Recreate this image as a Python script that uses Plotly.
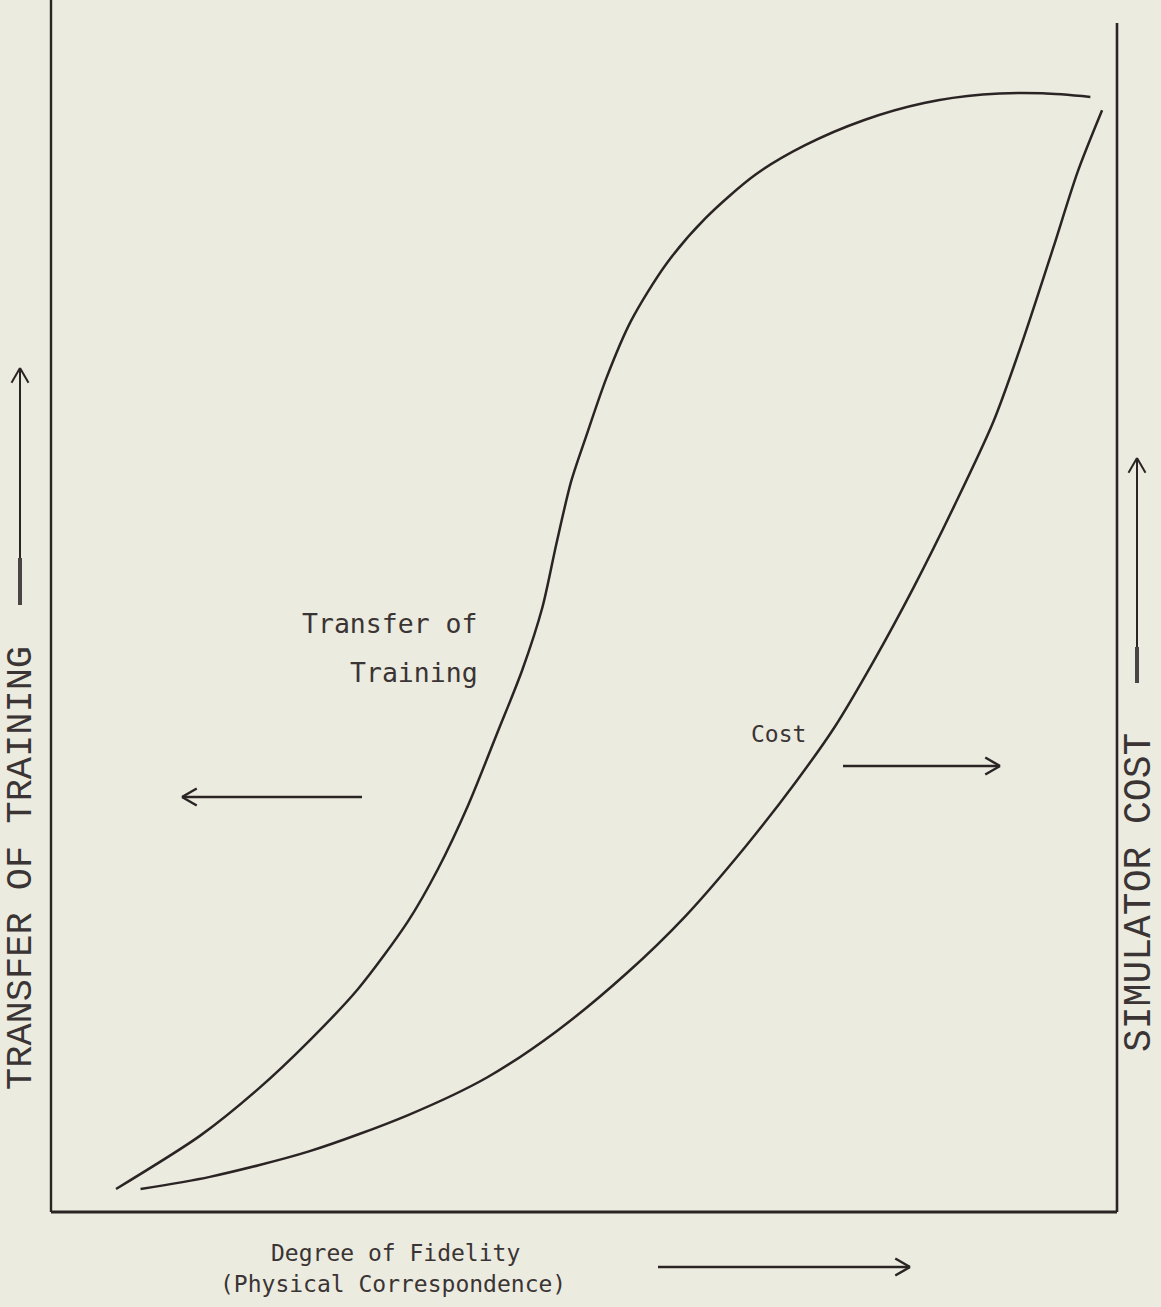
import math
import plotly.graph_objects as go

# ---- data (fidelity 0-100 along x, value 0-100 along y) ----
transfer_fidelity = [6.1, 14.0, 19.5, 24.2, 28.8, 33.5, 36.3, 39.1, 41.9, 44.2, 46.1, 47.4, 48.8, 50.2,
                     52.1, 54.4, 57.7, 61.4, 66.1, 70.7, 76.3, 81.9, 87.4, 93.0, 97.5]
transfer_value = [1.9, 6.3, 10.2, 14.1, 18.4, 24.0, 28.3, 33.5, 39.6, 44.7, 49.9, 55.1, 60.3, 64.0,
                  68.8, 73.5, 78.2, 82.0, 85.6, 88.0, 90.1, 91.5, 92.2, 92.3, 92.0]
cost_fidelity = [8.4, 14.9, 24.2, 33.5, 40.9, 47.4, 54.0, 59.5, 65.1, 69.8, 73.5, 77.2, 80.9, 84.7,
                 88.4, 91.2, 94.0, 96.3, 98.6]
cost_value = [1.9, 2.9, 5.0, 8.0, 11.1, 14.9, 19.7, 24.4, 30.1, 35.4, 40.0, 45.5, 51.5, 58.2,
              65.2, 72.0, 79.5, 85.8, 90.9]

x_title_1 = "Degree of Fidelity"
x_title_2 = "(Physical Correspondence)"
y_left_title = "TRANSFER OF TRAINING"
y_right_title = "SIMULATOR COST"
label_transfer_1 = "Transfer of"
label_transfer_2 = "Training"
label_cost = "Cost"

# ---- layout constants ----
W, H = 1161, 1307
BG = "#ecebdf"
INK = "#2b2424"
TXT = "#3a3434"
MONO = "DejaVu Sans Mono, Liberation Mono, monospace"
LETTER = "Liberation Mono, DejaVu Sans Mono, monospace"

# plot box in pixels: left axis x=51, right axis x=1117, bottom y=1212, top y=0
L, R, B, T = 51.0, 1117.0, 1212.0, 0.0
sx = (R - L) / 100.0
sy = (B - T) / 100.0
x_range = [-L / sx, (W - L) / sx]
y_range = [(B - H) / sy, B / sy]


def X(px):
    return px / W


def Y(py):
    return 1 - py / H


fig = go.Figure()
fig.add_trace(go.Scatter(x=transfer_fidelity, y=transfer_value, mode="lines",
                         line=dict(color=INK, width=2.5, shape="spline", smoothing=0.8),
                         hoverinfo="skip", showlegend=False))
fig.add_trace(go.Scatter(x=cost_fidelity, y=cost_value, mode="lines",
                         line=dict(color=INK, width=2.5, shape="spline", smoothing=0.8),
                         hoverinfo="skip", showlegend=False))

shapes = []
# axes frame
shapes.append(dict(type="line", xref="x", yref="y", x0=0, x1=0, y0=0, y1=y_range[1], line=dict(color=INK, width=2.4)))
shapes.append(dict(type="line", xref="x", yref="y", x0=0, x1=100, y0=0, y1=0, line=dict(color=INK, width=2.8)))
shapes.append(dict(type="line", xref="x", yref="y", x0=100, x1=100, y0=0, y1=(B - 23) / sy, line=dict(color=INK, width=2.6)))


def arrow(x0, y0, x1, y1, head=17, width=2.5):
    shapes.append(dict(type="line", xref="paper", yref="paper", x0=X(x0), y0=Y(y0), x1=X(x1), y1=Y(y1),
                       line=dict(color=INK, width=width)))
    ang = math.atan2(y1 - y0, x1 - x0)
    for d in (math.radians(150), math.radians(-150)):
        hx = x1 + head * math.cos(ang + d)
        hy = y1 + head * math.sin(ang + d)
        shapes.append(dict(type="line", xref="paper", yref="paper", x0=X(x1), y0=Y(y1), x1=X(hx), y1=Y(hy),
                           line=dict(color=INK, width=width)))


arrow(20, 605, 20, 368, width=2.0)        # left up arrow
arrow(1137, 683, 1137, 458, width=2.0)    # right up arrow
arrow(362, 797, 182, 797)                 # transfer arrow (left)
arrow(843, 766, 1000, 766)                # cost arrow (right)
arrow(658, 1267, 910, 1267)               # fidelity arrow
shapes.append(dict(type="line", xref="paper", yref="paper", x0=X(20), x1=X(20), y0=Y(558), y1=Y(605),
                   line=dict(color="#4a4444", width=4)))
shapes.append(dict(type="line", xref="paper", yref="paper", x0=X(1137), x1=X(1137), y0=Y(647), y1=Y(683),
                   line=dict(color="#4a4444", width=4)))

annotations = [
    dict(x=X(395), y=Y(1253), xref="paper", yref="paper", text=x_title_1, showarrow=False,
         font=dict(family=MONO, size=23, color=TXT), xanchor="center", yanchor="middle"),
    dict(x=X(393), y=Y(1284), xref="paper", yref="paper", text=x_title_2, showarrow=False,
         font=dict(family=MONO, size=23, color=TXT), xanchor="center", yanchor="middle"),
    dict(x=X(21), y=Y(868), xref="paper", yref="paper", text=y_left_title, showarrow=False, textangle=-90,
         font=dict(family=LETTER, size=37, color=TXT), xanchor="center", yanchor="middle"),
    dict(x=X(1139), y=Y(893), xref="paper", yref="paper", text=y_right_title, showarrow=False, textangle=-90,
         font=dict(family=LETTER, size=38, color=TXT), xanchor="center", yanchor="middle"),
    dict(x=X(480), y=Y(624), xref="paper", yref="paper", text=label_transfer_1, showarrow=False,
         font=dict(family=MONO, size=26.5, color=TXT), xanchor="right", yanchor="middle"),
    dict(x=X(480), y=Y(672), xref="paper", yref="paper", text=label_transfer_2, showarrow=False,
         font=dict(family=MONO, size=26.5, color=TXT), xanchor="right", yanchor="middle"),
    dict(x=X(808), y=Y(734), xref="paper", yref="paper", text=label_cost, showarrow=False,
         font=dict(family=MONO, size=23, color=TXT), xanchor="right", yanchor="middle"),
]

fig.update_layout(
    width=W, height=H,
    margin=dict(l=0, r=0, t=0, b=0),
    paper_bgcolor=BG, plot_bgcolor=BG,
    xaxis=dict(range=x_range, visible=False, fixedrange=True),
    yaxis=dict(range=y_range, visible=False, fixedrange=True),
    shapes=shapes, annotations=annotations,
    showlegend=False,
)

fig.write_html("out.html", config={"displayModeBar": False},
               post_script="document.body.style.margin='0';document.body.style.background='%s';" % BG)
